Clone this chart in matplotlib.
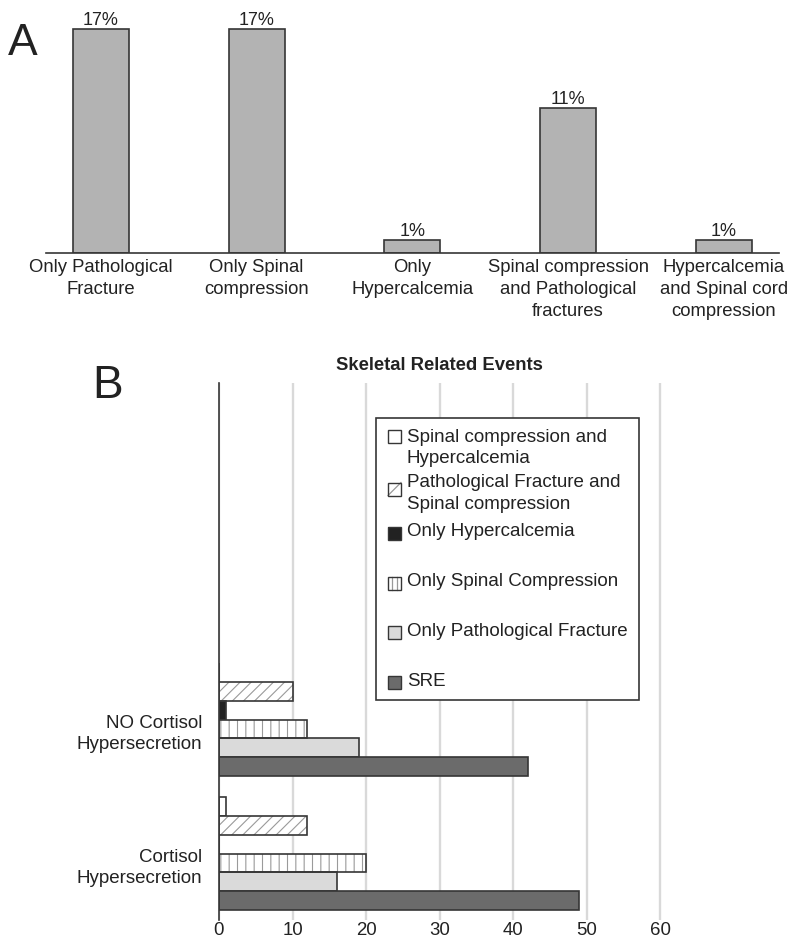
import matplotlib
matplotlib.use("Agg")
import matplotlib.pyplot as plt
from matplotlib.patches import Rectangle
from matplotlib.lines import Line2D
import numpy as np

plt.rcParams['font.family'] = ['Liberation Sans', 'DejaVu Sans']
plt.rcParams['hatch.linewidth'] = 0.8

# ---------------- data ----------------
a_categories = ["Only Pathological\nFracture", "Only Spinal\ncompression", "Only\nHypercalcemia",
                "Spinal compression\nand Pathological\nfractures", "Hypercalcemia\nand Spinal cord\ncompression"]
a_values = [17, 17, 1, 11, 1]

b_groups = ["Cortisol\nHypersecretion", "NO Cortisol\nHypersecretion"]
b_series = ["Spinal compression and\nHypercalcemia",
            "Pathological Fracture and\nSpinal compression",
            "Only Hypercalcemia",
            "Only Spinal Compression",
            "Only Pathological Fracture",
            "SRE"]
# values per series: [Cortisol, NO Cortisol]
b_spinal_hyper = [1, 0]
b_path_spinal = [12, 10]
b_only_hyper = [0, 1]
b_only_spinal = [20, 12]
b_only_path = [16, 19]
b_sre = [49, 42]
b_values = [b_spinal_hyper, b_path_spinal, b_only_hyper, b_only_spinal, b_only_path, b_sre]
b_xticks = [0, 10, 20, 30, 40, 50, 60]

# ---------------- styles ----------------
styles = [
    dict(fc='white', hatch=None),
    dict(fc='white', hatch='///'),
    dict(fc='#222222', hatch=None),
    dict(fc='white', hatch='||'),
    dict(fc='#dadada', hatch=None),
    dict(fc='#6b6b6b', hatch=None),
]
EDGE = '#363636'
HATCHC = '#9a9a9a'
LS = 1.36

W, H = 790, 942
fig = plt.figure(figsize=(W / 100, H / 100), dpi=100)

def fx(x):
    return x / W

def fy(y):
    return 1 - y / H

# ---------------- Panel A ----------------
axA = fig.add_axes([fx(46), fy(253), (779 - 46) / W, (253 - 15) / H])
xa = np.arange(len(a_values))
bars = axA.bar(xa, a_values, width=0.36, color='#b3b3b3', edgecolor=EDGE, linewidth=1.2)
axA.bar_label(bars, labels=[f"{v}%" for v in a_values], padding=0, fontsize=13, color='#222222')
axA.set_xlim(-0.353, 4.355)
axA.set_ylim(0, 238 / 13.18)
axA.set_xticks(xa)
axA.set_xticklabels(a_categories, fontsize=13.3, color='#222222', linespacing=LS)
axA.tick_params(axis='x', length=0, pad=4.5)
axA.set_yticks([])
for s in ['top', 'right', 'left']:
    axA.spines[s].set_visible(False)
axA.spines['bottom'].set_color(EDGE)
axA.spines['bottom'].set_linewidth(1.2)

fig.text(fx(8), fy(55), "A", fontsize=32, va='baseline', ha='left', color='#222222')

# ---------------- Panel B ----------------
axB = fig.add_axes([fx(219), fy(920), (661.5 - 219) / W, (920 - 383) / H])
yg = np.arange(len(b_groups))
h = 0.141
for i, (vals, st) in enumerate(zip(b_values, styles)):
    off = (2.5 - i) * h
    if st['hatch']:
        axB.barh(yg + off, vals, height=h, color='white', edgecolor=HATCHC,
                 hatch=st['hatch'], linewidth=0, zorder=3)
        axB.barh(yg + off, vals, height=h, fill=False, edgecolor=EDGE, linewidth=1.2, zorder=4)
    else:
        axB.barh(yg + off, vals, height=h, color=st['fc'], edgecolor=EDGE, linewidth=1.2, zorder=3)

axB.set_xlim(0, 60.2)
axB.set_ylim(-0.496, 3.511)
axB.set_xticks(b_xticks)
axB.set_xticklabels([str(t) for t in b_xticks], fontsize=13.4, color='#222222')
axB.set_yticks(yg - 0.075)
axB.set_yticklabels(b_groups, fontsize=13.5, color='#222222', linespacing=LS)
axB.tick_params(axis='x', length=0, pad=1.5)
axB.tick_params(axis='y', length=0, pad=12)
axB.grid(axis='x', color='#d9d9d9', linewidth=1.7, zorder=0)
axB.set_axisbelow(True)
for s in ['top', 'right', 'bottom']:
    axB.spines[s].set_visible(False)
axB.spines['left'].set_color(EDGE)
axB.spines['left'].set_linewidth(1.2)
axB.spines['left'].set_zorder(6)

fig.text(fx(439), fy(370), "Skeletal Related Events", fontsize=13.3, fontweight='bold',
         ha='center', va='baseline', color='#222222')
fig.text(fx(92), fy(398), "B", fontsize=33, va='baseline', ha='left', color='#222222')

# ---------------- Legend (manual) ----------------
box = Rectangle((fx(376), fy(700)), (639 - 376) / W, (700 - 418) / H, transform=fig.transFigure,
                facecolor='white', edgecolor=EDGE, linewidth=1.2, zorder=10, clip_on=False)
axB.add_patch(box)
text_y = [448, 493.5, 532, 581, 631, 682]
mark_y = [436.5, 489, 533, 583, 632, 682]
msize = 13
for lab, st, ty, my in zip(b_series, styles, text_y, mark_y):
    x0, y0 = fx(388), fy(my + msize / 2)
    ww, hh = msize / W, msize / H
    axB.add_patch(Rectangle((x0, y0), ww, hh, transform=fig.transFigure, facecolor=st['fc'],
                            edgecolor='none', linewidth=0, zorder=11, clip_on=False))
    if st['hatch'] and st['hatch'].startswith('/'):
        axB.add_line(Line2D([x0, x0 + ww], [y0, y0 + hh], transform=fig.transFigure,
                            color=HATCHC, linewidth=0.9, zorder=12, clip_on=False))
    elif st['hatch'] and st['hatch'].startswith('|'):
        for frac in (0.33, 0.67):
            axB.add_line(Line2D([x0 + frac * ww] * 2, [y0, y0 + hh], transform=fig.transFigure,
                                color=HATCHC, linewidth=0.9, zorder=12, clip_on=False))
    axB.add_patch(Rectangle((x0, y0), ww, hh, transform=fig.transFigure, fill=False,
                            edgecolor=EDGE, linewidth=1.0, zorder=13, clip_on=False))
    fig.text(fx(407), fy(ty), lab, fontsize=13.5, ha='left', va='center', color='#222222',
             linespacing=LS, zorder=13)

fig.savefig("out.png", dpi=100)
